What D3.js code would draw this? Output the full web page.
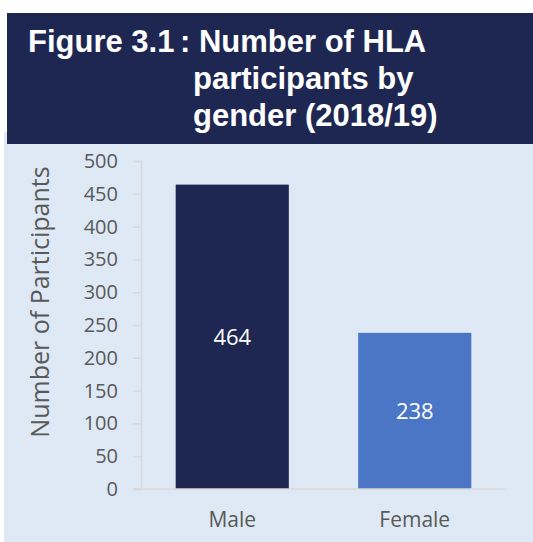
<!DOCTYPE html>
<html>
<head>
<meta charset="utf-8">
<title>Figure 3.1</title>
<style>
  body { margin: 0; background: #fff; }
  .lbl { font-family: "Open Sans", sans-serif; fill: #595959; }
  .title { font-family: "Liberation Sans", Arial, sans-serif; font-weight: bold; fill: #fff; }
</style>
</head>
<body>
<svg class="chart"></svg>
<script src="https://d3js.org/d3.v7.min.js"></script>
<script>
var categories = ["Male", "Female"];
var values = [464, 238];
var barColors = ["#1e2751", "#4a76c5"];
var yTicks = [0, 50, 100, 150, 200, 250, 300, 350, 400, 450, 500];

var svg = d3.select(".chart").attr("width", 533).attr("height", 542);

// background panel
svg.append("rect").attr("x", 4).attr("y", 132).attr("width", 529).attr("height", 410).attr("fill", "#dee9f5");

// title box
svg.append("rect").attr("x", 7).attr("y", 13).attr("width", 526).attr("height", 131).attr("fill", "#1e2751");
var title = svg.append("text").attr("class", "title").style("font-size", "31px");
title.append("tspan").attr("x", 28).attr("y", 52).text("Figure 3.1");
title.append("tspan").attr("x", 180).attr("y", 52).text(": Number of HLA");
title.append("tspan").attr("x", 193).attr("y", 89).text("participants by");
title.append("tspan").attr("x", 193).attr("y", 126).text("gender (2018/19)");

var x = d3.scaleBand().domain(categories).range([141, 506]).paddingInner(0.38).paddingOuter(0.19);
var y = d3.scaleLinear().domain([0, 500]).range([489, 161]);

// y axis
var yAxis = svg.append("g").attr("transform", "translate(141,0)")
  .call(d3.axisLeft(y).tickValues(yTicks).tickSize(8).tickPadding(15));
yAxis.select(".domain").attr("stroke", "#d9d9d9").attr("stroke-width", 1.5);
yAxis.selectAll(".tick line").attr("stroke", "#d9d9d9").attr("stroke-width", 1.5);
yAxis.selectAll(".tick text").attr("class", "lbl").style("font-size", "20px").attr("fill", "#595959");

// bars
svg.append("g").selectAll("rect").data(values).enter().append("rect")
  .attr("x", function(d, i) { return x(categories[i]); })
  .attr("y", function(d) { return y(d); })
  .attr("width", x.bandwidth())
  .attr("height", function(d) { return y(0) - y(d); })
  .attr("fill", function(d, i) { return barColors[i]; });

// baseline
svg.append("line").attr("x1", 133).attr("x2", 506).attr("y1", y(0)).attr("y2", y(0))
  .attr("stroke", "#d9d9d9").attr("stroke-width", 1.5);

// value labels
svg.append("g").selectAll("text").data(values).enter().append("text")
  .attr("class", "lbl")
  .attr("x", function(d, i) { return x(categories[i]) + x.bandwidth() / 2; })
  .attr("y", function(d) { return y(d / 2) + 8; })
  .attr("text-anchor", "middle")
  .style("font-size", "22px")
  .style("fill", "#fff")
  .text(function(d) { return d; });

// category labels
svg.append("g").selectAll("text").data(categories).enter().append("text")
  .attr("class", "lbl")
  .attr("x", function(d) { return x(d) + x.bandwidth() / 2; })
  .attr("y", 527)
  .attr("text-anchor", "middle")
  .style("font-size", "21px")
  .text(function(d) { return d; });

// y axis title
svg.append("text").attr("class", "lbl")
  .attr("transform", "translate(49,302) rotate(-90)")
  .attr("text-anchor", "middle")
  .style("font-size", "25px")
  .text("Number of Participants");
</script>
</body>
</html>
